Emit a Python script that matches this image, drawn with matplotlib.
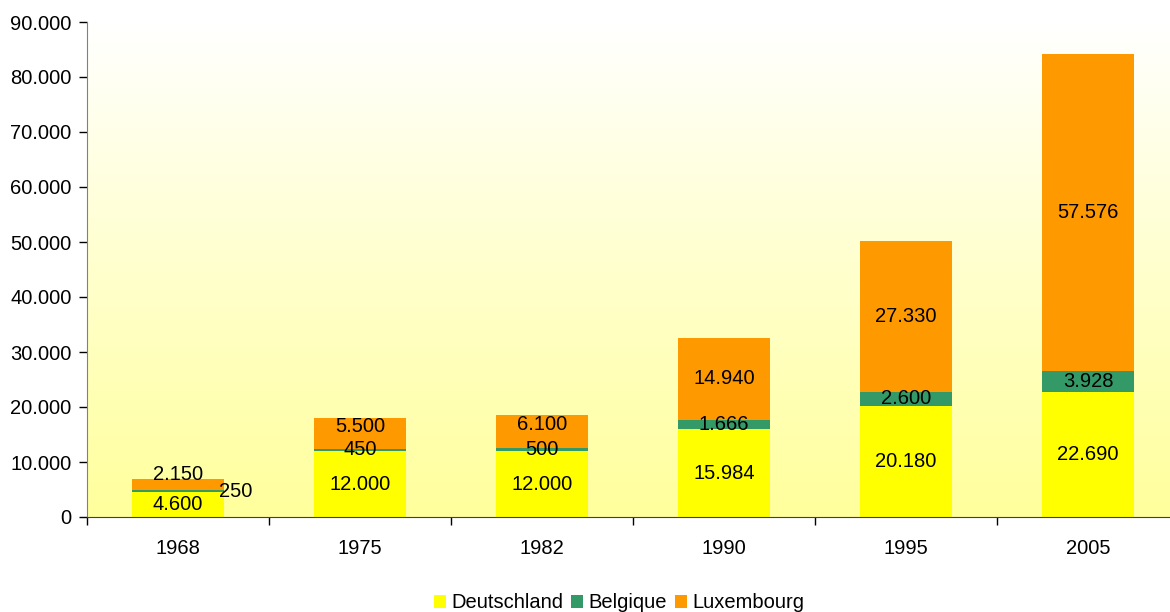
import matplotlib
import matplotlib.pyplot as plt
import numpy as np
from matplotlib.colors import LinearSegmentedColormap

matplotlib.use("Agg")

plt.rcParams["font.family"] = ["Liberation Sans", "DejaVu Sans"]

years = ["1968", "1975", "1982", "1990", "1995", "2005"]
deutschland = [4600, 12000, 12000, 15984, 20180, 22690]
belgique = [250, 450, 500, 1666, 2600, 3928]
luxembourg = [2150, 5500, 6100, 14940, 27330, 57576]

series_names = ["Deutschland", "Belgique", "Luxembourg"]
series_colors = ["#FFFF00", "#339966", "#FF9900"]

FS = 14.5


def fmt(v):
    return f"{v:,.0f}".replace(",", ".")


fig = plt.figure(figsize=(11.7, 6.12), dpi=100)
# axes run a bit past the right edge, as in the reference
ax = fig.add_axes([87 / 1170, 1 - 517 / 612, 1092 / 1170, 495 / 612])

ax.set_xlim(-0.5, len(years) - 0.5)
ax.set_ylim(0, 90000)

# white-to-yellow background gradient inside the plot area
grad = np.linspace(0, 1, 256).reshape(-1, 1)
cmap = LinearSegmentedColormap.from_list("bg", ["#FFFF9C", "#FFFFFF"])
ax.imshow(grad, extent=[-0.5, len(years) - 0.5, 0, 90000], origin="lower",
          aspect="auto", cmap=cmap, zorder=0)

x = np.arange(len(years))
width = 0.51
bottom = np.zeros(len(years))
all_series = [deutschland, belgique, luxembourg]
for name, color, vals in zip(series_names, series_colors, all_series):
    vals = np.array(vals, dtype=float)
    ax.bar(x, vals, width, bottom=bottom, color=color, label=name, zorder=2)
    for i, v in enumerate(vals):
        cy = bottom[i] + v / 2
        dx, dy = 0, 0
        # small segments in the early years: nudge labels apart
        if name == "Belgique" and i == 0:
            dx = width / 2 + 0.06
        if name == "Luxembourg" and i == 0:
            dy = 7
        if name == "Luxembourg" and i in (1, 2):
            dy = 5
        ax.annotate(fmt(v), (x[i] + dx, cy), xytext=(0, dy), textcoords="offset points",
                    ha="center", va="center", fontsize=FS, zorder=3)
    bottom += vals

ax.set_xticks(x)
ax.set_xticklabels(years, fontsize=FS)
ax.set_xticks(np.arange(len(years) + 1) - 0.5, minor=True)
ax.tick_params(axis="x", which="major", length=0, pad=16)
ax.tick_params(axis="x", which="minor", length=6, color="black", width=1)

yticks = np.arange(0, 90001, 10000)
ax.set_yticks(yticks)
ax.set_yticklabels([fmt(t) for t in yticks], fontsize=FS)
ax.tick_params(axis="y", length=6, width=1, color="black", pad=5)

for side in ["top", "right"]:
    ax.spines[side].set_visible(False)
ax.spines["left"].set_color("#808080")
ax.spines["bottom"].set_color("#404040")

fig.legend(loc="center", bbox_to_anchor=(619 / 1170, 1 - 603 / 612), ncol=3,
           frameon=False, fontsize=FS, handlelength=0.6, handleheight=0.6,
           handletextpad=0.25, columnspacing=0.4, borderaxespad=0)

fig.savefig("out.png", dpi=100)
